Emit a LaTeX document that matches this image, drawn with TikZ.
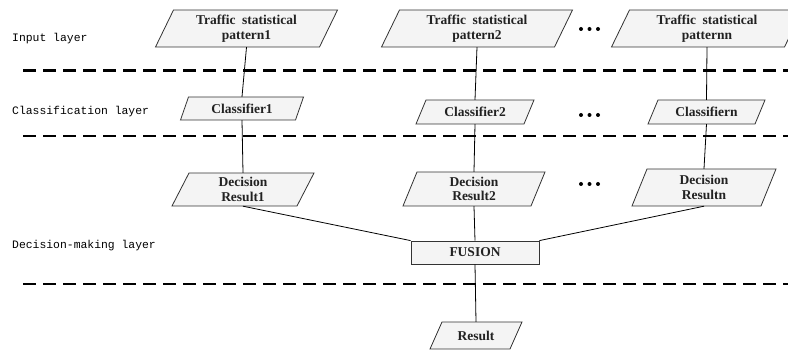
\documentclass[tikz,border=0pt]{standalone}
\usepackage{fontspec}
\setmainfont{Liberation Serif}
\newfontfamily\labelfont{Liberation Mono}
\definecolor{boxfill}{HTML}{F4F4F4}
\definecolor{boxline}{HTML}{333333}
\definecolor{boxink}{HTML}{222222}
\tikzset{
  boxshape/.style={fill=boxfill, draw=boxline, line width=0.8pt, line join=miter},
  boxtext/.style={inner sep=0pt, align=center, text=boxink,
    font=\fontsize{13.5}{14.5}\selectfont\bfseries},
  layerlabel/.style={anchor=west, inner sep=0pt, font=\labelfont\fontsize{11.4}{13}\selectfont},
  divider/.style={line width=2.5pt, dash pattern=on 13pt off 7pt},
  link/.style={line width=0.8pt, draw=black},
}
% slanted box: name, centre x, centre y, edge length, height, slant, text
\newcommand\slbox[7]{%
  \filldraw[boxshape] ({#2-#4/2-#6/2},{#3+#5/2}) -- ({#2+#4/2-#6/2},{#3+#5/2})
    -- ({#2+#4/2+#6/2},{#3-#5/2}) -- ({#2-#4/2+#6/2},{#3-#5/2}) -- cycle;
  \node[boxtext, minimum width=#4, minimum height=#5] (#1) at (#2,#3) {#7};
}
\begin{document}
\begin{tikzpicture}[x=1pt, y=-1pt]
\useasboundingbox (0,0) rectangle (788,352);

% layer dividers
\draw[divider] (23,70.7) -- (788,70.7);
\draw[divider] (23,136) -- (788,136);
\draw[divider] (23,284) -- (788,284);

% layer names
\node[layerlabel] (linput) at (12,39) {Input layer};
\node[layerlabel] (lclass) at (12,112) {Classification layer};
\node[layerlabel] (ldecide) at (12,246) {Decision-making layer};

% input patterns
\slbox{p1}{246.5}{28.5}{164}{37}{18}{Traffic\ \ statistical\\pattern1}
\slbox{p2}{477}{28.5}{173}{37}{18}{Traffic\ \ statistical\\pattern2}
\slbox{pn}{707}{28.5}{173}{37}{18}{Traffic\ \ statistical\\patternn}

% classifiers
\slbox{c1}{242}{108.5}{115}{23}{8}{Classifier1}
\slbox{c2}{475}{112}{108}{24}{10}{Classifier2}
\slbox{cn}{706.5}{112}{107}{24}{10}{Classifiern}

% decision results
\slbox{d1}{243}{189.5}{125}{33}{17}{Decision\\Result1}
\slbox{d2}{474}{189}{128}{34}{14}{Decision\\Result2}
\slbox{dn}{704}{187.5}{129}{37}{15}{Decision\\Resultn}

% fusion and final result
\node[boxtext, rectangle, fill=boxfill, draw=boxline, line width=0.8pt,
      minimum width=128, minimum height=23] (fu) at (475,252.5) {FUSION};
\slbox{res}{476}{335.5}{80}{27}{12}{Result}

% connectors
\draw[link] (p1.south) -- (c1.north);
\draw[link] (c1.south) -- (d1.north);
\draw[link] (p2.south) -- (c2.north);
\draw[link] (c2.south) -- (d2.north);
\draw[link] (pn.south) -- (cn.north);
\draw[link] (cn.south) -- (dn.north);
\draw[link] (d1.south) -- (fu.north west);
\draw[link] (d2.south) -- (fu.north);
\draw[link] (dn.south) -- (fu.north east);
\draw[link] (fu.south) -- (res.north);

% ellipses between columns
\foreach \yy in {29,115,184}{
  \fill (581,\yy) circle (2) (589.5,\yy) circle (2) (598,\yy) circle (2);
}
\end{tikzpicture}
\end{document}
